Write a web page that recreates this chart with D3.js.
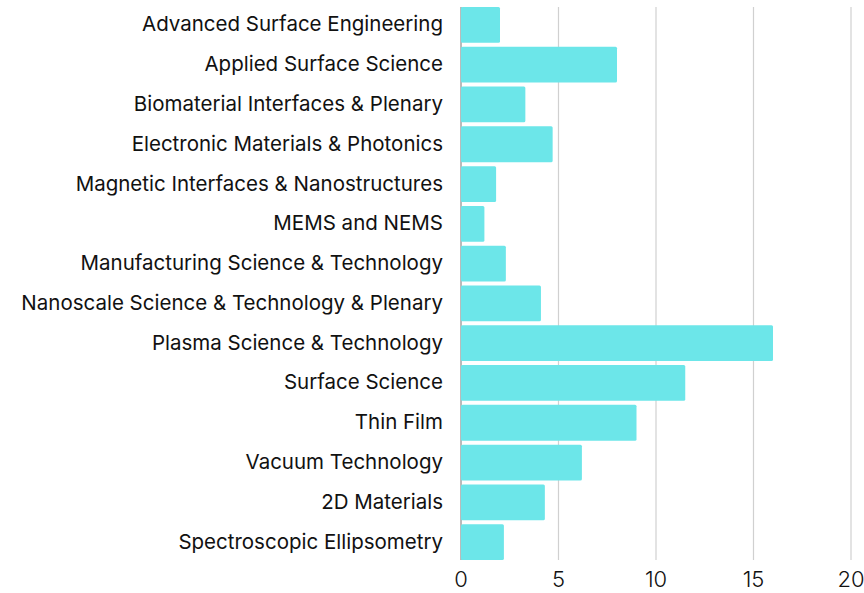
<!DOCTYPE html>
<html lang="en">
<head>
    <meta charset="UTF-8">
    <title>Sessions by Division</title>
    <script src="https://d3js.org/d3.v7.min.js"></script>
    <style>
        body { margin: 0; background: #fff; }
    </style>
</head>
<body>
    <script>
        // Data
        const categories = [
            "Advanced Surface Engineering",
            "Applied Surface Science",
            "Biomaterial Interfaces & Plenary",
            "Electronic Materials & Photonics",
            "Magnetic Interfaces & Nanostructures",
            "MEMS and NEMS",
            "Manufacturing Science & Technology",
            "Nanoscale Science & Technology & Plenary",
            "Plasma Science & Technology",
            "Surface Science",
            "Thin Film",
            "Vacuum Technology",
            "2D Materials",
            "Spectroscopic Ellipsometry"
        ];
        const values = [2, 8, 3.3, 4.7, 1.8, 1.2, 2.3, 4.1, 16, 11.5, 9, 6.2, 4.3, 2.2];
        const xTicks = [0, 5, 10, 15, 20];

        const width = 864, height = 593;
        const font = "Inter, 'DejaVu Sans', sans-serif";

        const svg = d3.select("body")
            .append("svg")
            .attr("width", width)
            .attr("height", height);

        const x = d3.scaleLinear().domain([0, 20]).range([461, 851]);
        const y = d3.scaleBand().domain(categories).range([7, 560])
            .paddingInner(0.1).paddingOuter(0);

        // Vertical gridlines
        svg.append("g")
            .selectAll("line")
            .data(xTicks.slice(1))
            .enter()
            .append("line")
            .attr("x1", d => x(d))
            .attr("x2", d => x(d))
            .attr("y1", 7)
            .attr("y2", 560)
            .attr("stroke", "#d0d0d0")
            .attr("stroke-width", 1.2);

        // Zero line
        svg.append("line")
            .attr("x1", x(0)).attr("x2", x(0))
            .attr("y1", 7).attr("y2", 560)
            .attr("stroke", "#777")
            .attr("stroke-width", 1);

        // Bars
        svg.append("g")
            .selectAll("rect")
            .data(values)
            .enter()
            .append("rect")
            .attr("x", x(0))
            .attr("y", (d, i) => y(categories[i]))
            .attr("width", d => x(d) - x(0))
            .attr("height", y.bandwidth())
            .attr("rx", 1.5)
            .attr("fill", "#6ce6e9");

        // Category labels
        svg.append("g")
            .selectAll("text")
            .data(categories)
            .enter()
            .append("text")
            .attr("x", 443)
            .attr("y", d => y(d) + y.bandwidth() / 2 - 1)
            .attr("text-anchor", "end")
            .attr("dominant-baseline", "central")
            .attr("font-family", font)
            .attr("font-size", "20.5px")
            .attr("font-weight", 400)
            .attr("fill", "#111")
            .text(d => d);

        // X axis tick labels
        svg.append("g")
            .selectAll("text")
            .data(xTicks)
            .enter()
            .append("text")
            .attr("x", d => x(d))
            .attr("y", 579)
            .attr("text-anchor", "middle")
            .attr("dominant-baseline", "central")
            .attr("font-family", font)
            .attr("font-size", "22px")
            .attr("font-weight", 300)
            .attr("fill", "#111")
            .text(d => d);
    </script>
</body>
</html>
